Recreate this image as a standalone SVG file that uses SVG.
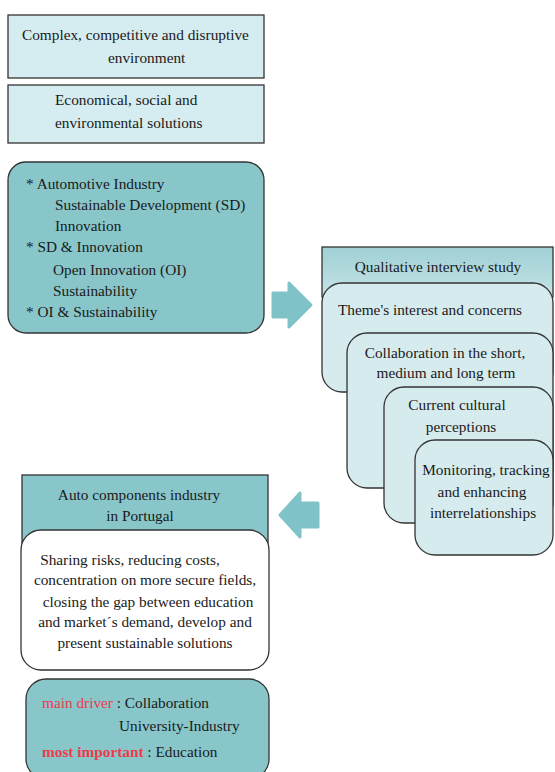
<svg xmlns="http://www.w3.org/2000/svg" width="555" height="772" viewBox="0 0 555 772" font-family="'Liberation Serif', 'Times New Roman', 'DejaVu Serif', serif">
<defs>
<linearGradient id="hdr" x1="0" y1="0" x2="0" y2="1">
<stop offset="0" stop-color="#9fd0d4"/>
<stop offset="1" stop-color="#c6e4e7"/>
</linearGradient>
<style>
text{font-family:'Liberation Serif','Times New Roman',serif;font-size:15.3px;fill:#1a1a1a}
.light{fill:#d5ecf0;stroke:#333;stroke-width:1.3}
.teal{fill:#88c6ca;stroke:#333;stroke-width:1.3}
.pale{fill:#d6ebee;stroke:#333;stroke-width:1.3}
.white{fill:#fff;stroke:#333;stroke-width:1.3}
.arrow{fill:#7fc3c8;stroke:#7fc3c8;stroke-width:3;stroke-linejoin:round}
.red{fill:#ee3a4a}
.c{text-anchor:middle}
</style>
</defs>
<rect width="555" height="772" fill="#fff"/>
<g id="box-complex">
<rect class="light" x="8" y="15" width="256" height="63"/>
<text x="22" y="40">Complex, competitive and disruptive</text>
<text x="108" y="63">environment</text>
</g>
<g id="box-solutions">
<rect class="light" x="8" y="85" width="256" height="58"/>
<text x="55" y="105">Economical, social and</text>
<text x="55" y="128">environmental solutions</text>
</g>
<g id="box-topics">
<rect class="teal" x="8" y="162" width="256" height="171" rx="18"/>
<text x="26" y="189">* Automotive Industry</text>
<text x="55" y="210">Sustainable Development (SD)</text>
<text x="55" y="231">Innovation</text>
<text x="26" y="252">*  SD &amp; Innovation</text>
<text x="53" y="275">Open Innovation (OI)</text>
<text x="53" y="296">Sustainability</text>
<text x="26" y="317">* OI &amp; Sustainability</text>
</g>
<g id="connectors">
<polygon class="arrow" points="273,293 289,293 289,283 311,305 289,327 289,317 273,317"/>
<polygon class="arrow" points="318,503 300,503 300,493 280,515 300,537 300,527 318,527"/>
</g>
<g id="box-qualitative">
<rect x="322" y="247" width="231" height="50" fill="url(#hdr)" stroke="#333" stroke-width="1.3"/>
<text class="c" x="438" y="272">Qualitative interview study</text>
</g>
<g id="box-theme">
<rect class="pale" x="322" y="283" width="231" height="109" rx="20"/>
<text class="c" x="430" y="315">Theme's interest and concerns</text>
</g>
<g id="box-collab">
<rect class="pale" x="347" y="333" width="206" height="155" rx="20"/>
<text class="c" x="445" y="358">Collaboration in the short,</text>
<text class="c" x="446" y="378">medium and long term</text>
</g>
<g id="box-cultural">
<rect class="pale" x="384" y="387" width="169" height="136" rx="20"/>
<text class="c" x="457" y="410">Current cultural</text>
<text class="c" x="461" y="432">perceptions</text>
</g>
<g id="box-monitoring">
<rect class="pale" x="415" y="440" width="138" height="115" rx="20"/>
<text class="c" x="486" y="475">Monitoring, tracking</text>
<text class="c" x="482" y="497">and enhancing</text>
<text class="c" x="483" y="518">interrelationships</text>
</g>
<g id="box-auto">
<rect class="teal" x="22" y="475" width="246" height="80"/>
<text class="c" x="139" y="500">Auto components industry</text>
<text class="c" x="140" y="521">in Portugal</text>
</g>
<g id="box-sharing">
<rect class="white" x="21" y="530" width="248" height="140" rx="20"/>
<text class="c" x="130" y="565">Sharing risks, reducing costs,</text>
<text class="c" x="145" y="585">concentration on more secure fields,</text>
<text class="c" x="148" y="607">closing the gap between education</text>
<text class="c" x="145" y="627">and market´s demand, develop and</text>
<text class="c" x="145" y="648">present sustainable solutions</text>
</g>
<g id="box-driver">
<rect class="teal" x="26" y="679" width="243" height="100" rx="20"/>
<text x="42" y="708"><tspan class="red">main driver</tspan> : Collaboration</text>
<text x="119" y="731">University-Industry</text>
<text x="42" y="757"><tspan class="red" font-weight="bold">most important</tspan> : Education</text>
</g>
</svg>
